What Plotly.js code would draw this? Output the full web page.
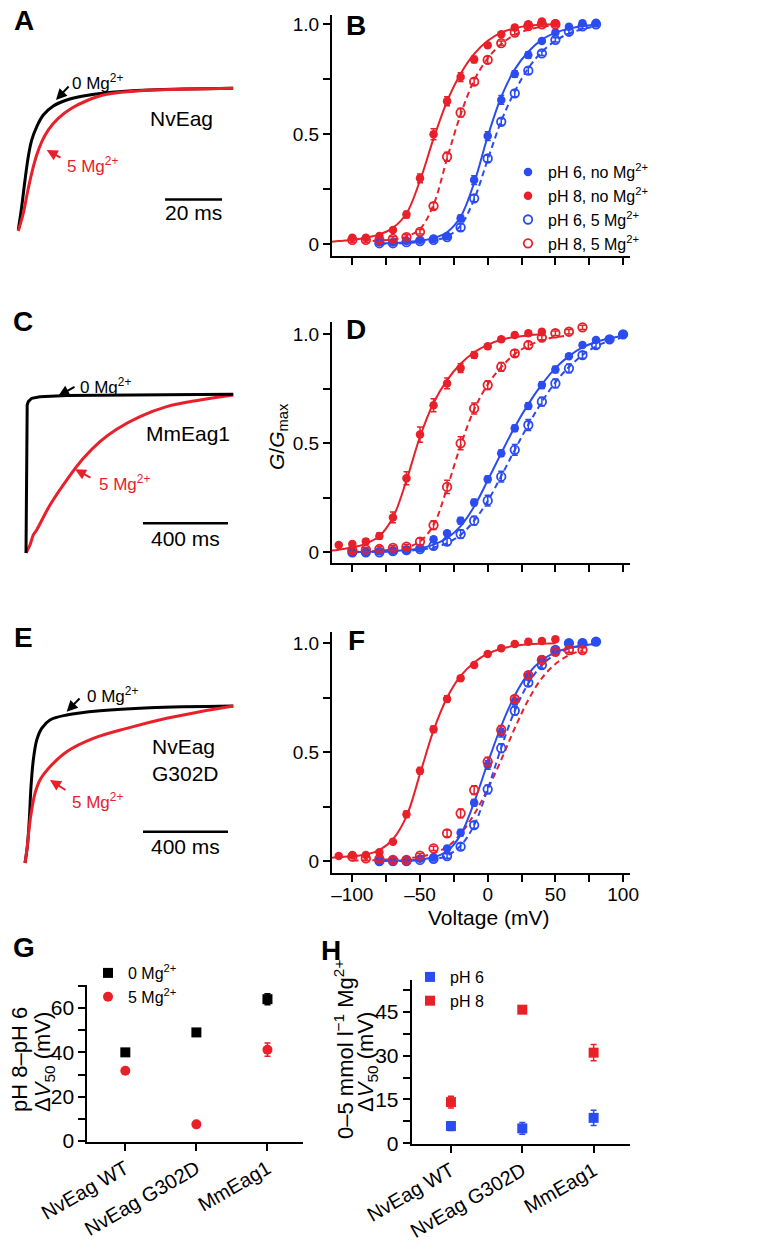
<!DOCTYPE html>
<html><head><meta charset="utf-8">
<script src="https://cdn.plot.ly/plotly-3.0.1.min.js"></script>
<style>html,body{margin:0;padding:0;background:#fff}#chart{width:778px;height:1243px}</style>
</head><body><div id="chart"></div>
<script>
// ===================== DATA =====================
// Panel A (NvEag current traces, time in ms, normalized current)
const traceA_t0 = [0.1,1.3,2.46,3.61,4.8,6.56,8.88,12.4,17.1,22.9,31.1,46.3,75.5];
const traceA_i0 = [0.007,0.17,0.357,0.52,0.636,0.729,0.811,0.874,0.916,0.944,0.967,0.986,0.998];
const traceA_t5 = [0.1,1.86,3.26,4.8,6.56,8.32,10.6,14.1,18.8,24.1,31.1,42.8,58,75.5];
const traceA_i5 = [0,0.124,0.264,0.403,0.531,0.624,0.706,0.788,0.858,0.911,0.956,0.981,0.991,0.998];
const scaleA_t = [51.6, 71.6];   // 20 ms
const scaleA_i = [0.22, 0.22];
// Panel C (MmEag1)
const traceC_t0 = [0,2.4,3.3,5.6,10.8,18.8,26.8,65.9,191.5,505,975.5];
const traceC_i0 = [0,0.525,0.905,0.937,0.958,0.972,0.979,0.989,0.996,1.0,1.004];
const traceC_t5 = [0,18.8,34.4,50.2,113,191.5,270,348,426.7,536.5,662,818.8,975.5];
const traceC_i5 = [0,0.051,0.115,0.146,0.304,0.462,0.599,0.705,0.783,0.863,0.926,0.968,1.0];
const scaleC_t = [550.6, 950.6]; // 400 ms
const scaleC_i = [0.188, 0.188];
// Panel E (NvEag G302D)
const traceE_t0 = [0,10.8,20.2,28.2,39.1,55.1,78.6,117.6,196.2,352.9,588.2,980.2];
const traceE_i0 = [0,0.104,0.274,0.486,0.656,0.783,0.858,0.911,0.943,0.97,0.989,1.0];
const traceE_t5 = [0,10.8,20.2,31.5,47,70.6,117.6,196.2,321.4,478.6,666.8,823.5,980.2];
const traceE_i5 = [0,0.104,0.231,0.338,0.444,0.529,0.613,0.709,0.794,0.858,0.922,0.964,1.0];
const scaleE_t = [555.3, 955.3]; // 400 ms
const scaleE_i = [0.2, 0.2];

// Panel B (G/Gmax vs voltage, NvEag)
const B_V_red  = [-100,-90,-80,-70,-60,-50,-40,-30,-20,-10,0,10,20,30,40,50];
const B_red0   = [0.03,0.03,0.038,0.065,0.135,0.30,0.50,0.65,0.76,0.84,0.905,0.955,0.985,1.0,1.012,1.005];
const B_red0e  = [0.01,0.01,0.01,0.01,0.015,0.02,0.025,0.02,0.02,0.015,0.01,0.01,0.01,0.01,0.01,0.01];
const B_red5   = [0.02,0.02,0.02,0.025,0.033,0.057,0.174,0.398,0.598,0.739,0.838,0.914,0.962,0.992,1.0,1.0];
const B_red5e  = [0.01,0.01,0.01,0.01,0.01,0.01,0.015,0.02,0.02,0.015,0.015,0.01,0.01,0.01,0.01,0.01];
const B_V_blue = [-80,-70,-60,-50,-40,-30,-20,-10,0,10,20,30,40,50,60,70,80];
const B_blue0  = [0.01,0.01,0.015,0.02,0.027,0.038,0.118,0.292,0.492,0.656,0.774,0.86,0.924,0.962,0.989,1.005,1.007];
const B_blue0e = [0.005,0.005,0.005,0.005,0.01,0.01,0.015,0.02,0.02,0.02,0.015,0.015,0.01,0.01,0.01,0.01,0.01];
const B_blue5  = [0.005,0.005,0.01,0.015,0.02,0.033,0.077,0.209,0.39,0.557,0.686,0.789,0.868,0.929,0.966,0.99,1.0];
const B_blue5e = [0.005,0.005,0.005,0.005,0.01,0.01,0.015,0.015,0.015,0.015,0.015,0.015,0.01,0.01,0.01,0.01,0.01];
const B_fitV_red0 = [-115,-110,-100,-90,-80,-70,-60,-50,-40,-30,-20,-10,0,10,20,30,40,50];
const B_fit_red0  = [0.012,0.015,0.02,0.03,0.045,0.075,0.14,0.29,0.48,0.65,0.775,0.865,0.925,0.962,0.982,0.993,0.998,1.0];
const B_fitV_red5 = [-85,-80,-70,-60,-50,-40,-30,-20,-10,0,10,20,30,40,50];
const B_fit_red5  = [0.015,0.018,0.022,0.035,0.07,0.18,0.39,0.59,0.745,0.845,0.91,0.952,0.975,0.988,0.995];
const B_fitV_blue = [-80,-70,-60,-50,-40,-30,-20,-10,0,10,20,30,40,50,60,70,80];
const B_fit_blue0 = [0.004,0.006,0.01,0.016,0.028,0.055,0.125,0.28,0.49,0.67,0.795,0.875,0.93,0.962,0.98,0.992,0.998];
const B_fit_blue5 = [0.002,0.003,0.006,0.01,0.018,0.035,0.085,0.205,0.385,0.56,0.695,0.8,0.875,0.925,0.958,0.978,0.992];

// Panel D (MmEag1)
const D_V_red0 = [-110,-100,-90,-80,-70,-60,-50,-40,-30,-20,-10,0,10,20,30,40];
const D_red0   = [0.033,0.038,0.05,0.075,0.16,0.34,0.54,0.675,0.775,0.845,0.905,0.945,0.977,0.997,1.005,1.012];
const D_red0e  = [0.01,0.01,0.012,0.015,0.025,0.03,0.035,0.03,0.025,0.02,0.015,0.012,0.01,0.01,0.01,0.01];
const D_V_red5 = [-100,-90,-80,-70,-60,-50,-40,-30,-20,-10,0,10,20,30,40,50,60,70];
const D_red5   = [0.01,0.012,0.015,0.02,0.026,0.049,0.125,0.30,0.50,0.66,0.767,0.851,0.913,0.951,0.985,1.005,1.012,1.032];
const D_red5e  = [0.01,0.01,0.01,0.01,0.01,0.015,0.02,0.03,0.03,0.025,0.02,0.02,0.015,0.015,0.01,0.01,0.01,0.01];
const D_V_blue = [-100,-90,-80,-70,-60,-50,-40,-30,-20,-10,0,10,20,30,40,50,60,70,80,90,100];
const D_blue0  = [0.0,0.0,0.005,0.007,0.01,0.02,0.06,0.087,0.145,0.228,0.335,0.454,0.569,0.671,0.767,0.839,0.90,0.951,0.974,0.977,1.0];
const D_blue0e = [0.005,0.005,0.005,0.005,0.005,0.01,0.01,0.01,0.015,0.015,0.015,0.015,0.015,0.015,0.015,0.015,0.01,0.01,0.01,0.01,0.01];
const D_blue5  = [0.0,0.0,0.0,0.005,0.01,0.015,0.03,0.049,0.084,0.145,0.237,0.347,0.47,0.584,0.691,0.775,0.844,0.905,0.951,0.977,1.0];
const D_blue5e = [0.005,0.005,0.005,0.005,0.01,0.01,0.015,0.015,0.02,0.02,0.025,0.025,0.025,0.025,0.02,0.02,0.02,0.015,0.015,0.01,0.01];
const D_fitV_red0 = [-115,-110,-100,-90,-80,-70,-60,-50,-40,-30,-20,-10,0,10,20,30,40];
const D_fit_red0  = [0.008,0.012,0.022,0.04,0.075,0.16,0.33,0.53,0.685,0.79,0.865,0.918,0.952,0.975,0.988,0.995,1.0];
const D_fitV_red5 = [-100,-90,-80,-70,-60,-50,-40,-30,-20,-10,0,10,20,30,40,50,60];
const D_fit_red5  = [0.003,0.005,0.008,0.013,0.022,0.05,0.125,0.295,0.49,0.655,0.77,0.85,0.91,0.948,0.972,0.987,0.995];
const D_fitV_blue = [-100,-90,-80,-70,-60,-50,-40,-30,-20,-10,0,10,20,30,40,50,60,70,80,90,100];
const D_fit_blue0 = [0.001,0.002,0.004,0.006,0.01,0.018,0.035,0.065,0.12,0.21,0.33,0.455,0.575,0.68,0.77,0.845,0.9,0.94,0.965,0.982,0.992];
const D_fit_blue5 = [0.0,0.001,0.002,0.004,0.007,0.012,0.022,0.042,0.08,0.145,0.235,0.35,0.47,0.585,0.69,0.78,0.85,0.905,0.945,0.97,0.985];

// Panel F (NvEag G302D)
const F_V_red0 = [-110,-100,-90,-80,-70,-60,-50,-40,-30,-20,-10,0,10,20,30,40,50];
const F_red0   = [0.023,0.028,0.028,0.04,0.089,0.215,0.415,0.605,0.744,0.839,0.90,0.951,0.977,0.997,1.007,1.01,1.018];
const F_red0e  = [0.01,0.01,0.01,0.01,0.01,0.015,0.015,0.015,0.015,0.01,0.01,0.01,0.01,0.01,0.01,0.01,0.01];
const F_V_red5 = [-100,-90,-80,-70,-60,-50,-40,-30,-20,-10,0,10,20,30,40,50,60,70];
const F_red5   = [0.02,0.012,0.01,0.005,0.005,0.025,0.058,0.127,0.219,0.326,0.456,0.602,0.744,0.854,0.923,0.961,0.969,0.969];
const F_red5e  = [0.01,0.01,0.01,0.01,0.01,0.01,0.01,0.015,0.02,0.02,0.02,0.02,0.015,0.015,0.01,0.01,0.01,0.01];
const F_V_blue = [-80,-70,-60,-50,-40,-30,-20,-10,0,10,20,30,40,50,60,70,80];
const F_blue0  = [0.0,0.0,0.005,0.01,0.017,0.058,0.13,0.268,0.441,0.59,0.732,0.847,0.927,0.966,0.997,1.003,1.007];
const F_blue0e = [0.005,0.005,0.005,0.005,0.01,0.01,0.015,0.015,0.02,0.02,0.015,0.015,0.01,0.01,0.01,0.01,0.01];
const F_blue5  = [0.0,0.0,0.0,0.005,0.01,0.023,0.066,0.165,0.329,0.518,0.69,0.819,0.90,0.969,1.0,1.0,1.007];
const F_blue5e = [0.005,0.005,0.005,0.005,0.01,0.01,0.015,0.015,0.02,0.02,0.02,0.015,0.015,0.01,0.01,0.01,0.01];
const F_fitV_red0 = [-115,-110,-100,-90,-80,-70,-60,-50,-40,-30,-20,-10,0,10,20,30,40,50];
const F_fit_red0  = [0.015,0.018,0.022,0.03,0.05,0.1,0.205,0.4,0.6,0.75,0.85,0.912,0.952,0.975,0.988,0.995,0.998,1.0];
const F_fitV_red5 = [-100,-90,-80,-70,-60,-50,-40,-30,-20,-10,0,10,20,30,40,50,60,70];
const F_fit_red5  = [0.002,0.003,0.005,0.008,0.012,0.02,0.036,0.065,0.125,0.215,0.33,0.465,0.61,0.74,0.84,0.905,0.945,0.968];
const F_fitV_blue = [-80,-70,-60,-50,-40,-30,-20,-10,0,10,20,30,40,50,60,70,80];
const F_fit_blue0 = [0.0,0.001,0.003,0.007,0.017,0.045,0.12,0.27,0.45,0.62,0.76,0.86,0.922,0.958,0.978,0.99,0.996];
const F_fit_blue5 = [0.0,0.0,0.001,0.003,0.008,0.025,0.07,0.165,0.33,0.52,0.69,0.815,0.9,0.948,0.975,0.988,0.995];

// Voltage axis ticks (major labelled, minor every 25 mV)
const voltTickVals = [-100,-50,0,50,100];
const voltTickText = ['\u2013100','\u201350','0','50','100'];
const voltMinorStep = 25;
const gTickVals = [0,0.5,1.0];
const gTickText = ['0','0.5','1.0'];
const gMinorStep = 0.25;

// Panels G and H
const constructs = ['NvEag WT','NvEag G302D','MmEag1'];
const constructPos = [0,1,2];
const G_mg0  = [40, 49, 64];
const G_mg0e = [1.5, 1.5, 2.5];
const G_mg5  = [31.7, 7.5, 41.2];
const G_mg5e = [1.0, 1.2, 3.0];
const G_tickVals = [0,20,40,60];
const G_minorStep = 10;
const H_ph6  = [5.9, 5.1, 8.7];
const H_ph6e = [1.5, 2.0, 2.6];
const H_ph8  = [14.1, 45.7, 31.0];
const H_ph8e = [2.0, 1.2, 2.8];
const H_tickVals = [0,15,30,45];
const H_minorStep = 7.5;

// ===================== LAYOUT HELPERS =====================
const W = 778, H = 1243;
const FONT = 'Liberation Sans, Arial, Helvetica, sans-serif';
const RED = '#e8202a', BLUE = '#2a4cf0', BLACK = '#000000';
const px = p => p / W;
const py = p => 1 - p / H;
const xdom = (a, b) => [a / W, b / W];
const ydom = (top, bot) => [1 - bot / H, 1 - top / H];

const traces = [];
function line(x, y, xa, ya, color, width, dash, shape) {
  traces.push({x, y, xaxis: xa, yaxis: ya, type: 'scatter', mode: 'lines',
    line: {color, width, dash: dash || 'solid', shape: shape || 'linear', smoothing: 1},
    showlegend: false, hoverinfo: 'skip'});
}
function pts(x, y, e, xa, ya, color, open, name, legend, symbol, size) {
  const sym = symbol || (open ? 'circle-open' : 'circle');
  traces.push({x, y, xaxis: xa, yaxis: ya, type: 'scatter', mode: 'markers', name: name || '',
    showlegend: !!name, legend: legend || 'legend', cliponaxis: false,
    marker: {symbol: sym, size: size || 8.5, color: color, line: {color: color, width: open ? 1.8 : 0}},
    error_y: e ? {type: 'data', array: e, visible: true, color: color, thickness: 1.5, width: 3} : {visible: false}});
}

// ---- A, C, E traces ----
line(traceA_t0, traceA_i0, 'x', 'y', BLACK, 3, 'solid', 'spline');
line(traceA_t5, traceA_i5, 'x', 'y', RED, 3, 'solid', 'spline');
line(scaleA_t, scaleA_i, 'x', 'y', BLACK, 2.5);
line(traceC_t5, traceC_i5, 'x3', 'y3', RED, 3, 'solid', 'spline');
line(traceC_t0, traceC_i0, 'x3', 'y3', BLACK, 3, 'solid', 'linear');
line(scaleC_t, scaleC_i, 'x3', 'y3', BLACK, 2.5);
line(traceE_t0, traceE_i0, 'x5', 'y5', BLACK, 3, 'solid', 'spline');
line(traceE_t5, traceE_i5, 'x5', 'y5', RED, 3, 'solid', 'spline');
line(scaleE_t, scaleE_i, 'x5', 'y5', BLACK, 2.5);

// ---- B ----
const DASH = '6px,4px';
line(B_fitV_red0, B_fit_red0, 'x2', 'y2', RED, 2, 'solid', 'spline');
line(B_fitV_red5, B_fit_red5, 'x2', 'y2', RED, 2, DASH, 'spline');
line(B_fitV_blue, B_fit_blue0, 'x2', 'y2', BLUE, 2, 'solid', 'spline');
line(B_fitV_blue, B_fit_blue5, 'x2', 'y2', BLUE, 2, DASH, 'spline');
pts(B_V_blue, B_blue0, B_blue0e, 'x2', 'y2', BLUE, false, 'pH 6, no Mg<sup>2+</sup>');
pts(B_V_red, B_red0, B_red0e, 'x2', 'y2', RED, false, 'pH 8, no Mg<sup>2+</sup>');
pts(B_V_blue, B_blue5, B_blue5e, 'x2', 'y2', BLUE, true, 'pH 6, 5 Mg<sup>2+</sup>');
pts(B_V_red, B_red5, B_red5e, 'x2', 'y2', RED, true, 'pH 8, 5 Mg<sup>2+</sup>');

// ---- D ----
line(D_fitV_red0, D_fit_red0, 'x4', 'y4', RED, 2, 'solid', 'spline');
line(D_fitV_red5, D_fit_red5, 'x4', 'y4', RED, 2, DASH, 'spline');
line(D_fitV_blue, D_fit_blue0, 'x4', 'y4', BLUE, 2, 'solid', 'spline');
line(D_fitV_blue, D_fit_blue5, 'x4', 'y4', BLUE, 2, DASH, 'spline');
pts(D_V_blue, D_blue0, D_blue0e, 'x4', 'y4', BLUE, false);
pts(D_V_red0, D_red0, D_red0e, 'x4', 'y4', RED, false);
pts(D_V_blue, D_blue5, D_blue5e, 'x4', 'y4', BLUE, true);
pts(D_V_red5, D_red5, D_red5e, 'x4', 'y4', RED, true);

// ---- F ----
line(F_fitV_red0, F_fit_red0, 'x6', 'y6', RED, 2, 'solid', 'spline');
line(F_fitV_red5, F_fit_red5, 'x6', 'y6', RED, 2, DASH, 'spline');
line(F_fitV_blue, F_fit_blue0, 'x6', 'y6', BLUE, 2, 'solid', 'spline');
line(F_fitV_blue, F_fit_blue5, 'x6', 'y6', BLUE, 2, DASH, 'spline');
pts(F_V_blue, F_blue0, F_blue0e, 'x6', 'y6', BLUE, false);
pts(F_V_red0, F_red0, F_red0e, 'x6', 'y6', RED, false);
pts(F_V_blue, F_blue5, F_blue5e, 'x6', 'y6', BLUE, true);
pts(F_V_red5, F_red5, F_red5e, 'x6', 'y6', RED, true);

// ---- G ----
pts(constructPos, G_mg0, G_mg0e, 'x7', 'y7', BLACK, false, '0 Mg<sup>2+</sup>', 'legend2', 'square', 10);
pts(constructPos, G_mg5, G_mg5e, 'x7', 'y7', RED, false, '5 Mg<sup>2+</sup>', 'legend2', 'circle', 10);
// ---- H ----
pts(constructPos, H_ph6, H_ph6e, 'x8', 'y8', BLUE, false, 'pH 6', 'legend3', 'square', 10);
pts(constructPos, H_ph8, H_ph8e, 'x8', 'y8', RED, false, 'pH 8', 'legend3', 'square', 10);

// ---- axes ----
const hidden = {visible: false, fixedrange: true};
const axBase = {showline: true, linecolor: BLACK, linewidth: 2, ticks: 'outside', ticklen: 7, tickwidth: 2,
  tickcolor: BLACK, showgrid: false, zeroline: false, mirror: false, fixedrange: true};
const minor = step => ({dtick: step, tick0: 0, ticks: 'outside', ticklen: 7, tickwidth: 2, tickcolor: BLACK, showgrid: false});
function voltAx(anchor, labels) {
  return Object.assign({}, axBase, {domain: xdom(332, 630), range: [-115.0, 105.1], anchor,
    tickmode: 'array', tickvals: voltTickVals, ticktext: voltTickText, showticklabels: labels,
    minor: minor(voltMinorStep), ticklabelstandoff: -4,
    tickfont: {family: FONT, size: 19, color: BLACK}});
}
function gAx(anchor, top, bot, range) {
  return Object.assign({}, axBase, {domain: ydom(top, bot), range, anchor,
    tickmode: 'array', tickvals: gTickVals, ticktext: gTickText, minor: minor(gMinorStep),
    tickfont: {family: FONT, size: 19, color: BLACK}});
}
function catAx(anchor, a, b, range) {
  return Object.assign({}, axBase, {domain: xdom(a, b), range, anchor, tickmode: 'array',
    tickvals: constructPos, ticktext: constructs, tickangle: -30, ticklabelstandoff: -2,
    tickfont: {family: FONT, size: 20, color: BLACK}});
}
function numAx(anchor, top, bot, range, vals, step) {
  return Object.assign({}, axBase, {domain: ydom(top, bot), range, anchor,
    tickmode: 'array', tickvals: vals, ticktext: vals.map(String), minor: minor(step),
    tickfont: {family: FONT, size: 21, color: BLACK}});
}

const layout = {
  width: W, height: H, margin: {l: 0, r: 0, t: 0, b: 0},
  paper_bgcolor: '#fff', plot_bgcolor: 'rgba(0,0,0,0)',
  font: {family: FONT, color: BLACK},
  xaxis:  Object.assign({}, hidden, {domain: xdom(5, 245), range: [-4.56, 79.65], anchor: 'y'}),
  yaxis:  Object.assign({}, hidden, {domain: ydom(70, 250), range: [-0.133, 1.126], anchor: 'x'}),
  xaxis3: Object.assign({}, hidden, {domain: xdom(5, 245), range: [-98.8, 1030.6], anchor: 'y3'}),
  yaxis3: Object.assign({}, hidden, {domain: ydom(370, 575), range: [-0.139, 1.158], anchor: 'x3'}),
  xaxis5: Object.assign({}, hidden, {domain: xdom(5, 245), range: [-94.1, 1035.3], anchor: 'y5'}),
  yaxis5: Object.assign({}, hidden, {domain: ydom(680, 885), range: [-0.14, 1.166], anchor: 'x5'}),
  xaxis2: voltAx('y2', false),
  yaxis2: gAx('x2', 15, 256, [-0.053, 1.042]),
  xaxis4: voltAx('y4', false),
  yaxis4: gAx('x4', 321.7, 563.3, [-0.0505, 1.058]),
  xaxis6: voltAx('y6', true),
  yaxis6: gAx('x6', 631.7, 873, [-0.055, 1.053]),
  xaxis7: catAx('y7', 87.3, 303, [-0.535, 2.5]),
  yaxis7: numAx('x7', 985, 1142.3, [-0.59, 70.4], G_tickVals, G_minorStep),
  xaxis8: catAx('y8', 411.7, 630, [-0.55, 2.51]),
  yaxis8: numAx('x8', 980, 1144.3, [-0.34, 55.85], H_tickVals, H_minorStep),
  showlegend: true,
  legend:  {x: px(508), y: py(155), xanchor: 'left', yanchor: 'top', bgcolor: 'rgba(0,0,0,0)',
    font: {family: FONT, size: 16, color: BLACK}, itemwidth: 30, tracegroupgap: 0, itemclick: false},
  legend2: {x: px(88), y: py(956), xanchor: 'left', yanchor: 'top', bgcolor: 'rgba(0,0,0,0)',
    font: {family: FONT, size: 16, color: BLACK}, itemwidth: 30, tracegroupgap: 0, itemclick: false},
  legend3: {x: px(410), y: py(960), xanchor: 'left', yanchor: 'top', bgcolor: 'rgba(0,0,0,0)',
    font: {family: FONT, size: 16, color: BLACK}, itemwidth: 30, tracegroupgap: 0, itemclick: false},
  annotations: []
};

const A = layout.annotations;
function txt(text, x, y, size, opts) {
  A.push(Object.assign({text, x: px(x), y: py(y), xref: 'paper', yref: 'paper', showarrow: false,
    xanchor: 'center', yanchor: 'middle', font: {family: FONT, size, color: BLACK}}, opts || {}));
}
function arrow(hx, hy, tx, ty, color) {
  A.push({text: '', x: px(hx), y: py(hy), xref: 'paper', yref: 'paper', ax: tx - hx, ay: ty - hy,
    showarrow: true, arrowhead: 2, arrowsize: 1.1, arrowwidth: 2, arrowcolor: color, standoff: 0, startstandoff: 0});
}
// panel letters
const LET = 28;
[['A', 24, 20], ['B', 356, 25], ['C', 23, 322], ['D', 356, 330], ['E', 23, 637], ['F', 356, 640],
 ['G', 24, 947], ['H', 331, 950]].forEach(([t, x, y]) => txt('<b>' + t + '</b>', x, y, LET));

// A annotations
txt('0 Mg<sup>2+</sup>', 70, 82, 17, {xanchor: 'left'});
arrow(56, 100, 70, 85, BLACK);
txt('NvEag', 181, 118, 21);
txt('5 Mg<sup>2+</sup>', 65, 165, 17, {xanchor: 'left', font: {family: FONT, size: 17, color: RED}});
arrow(46.7, 150, 62, 158.5, RED);
txt('20 ms', 193, 212, 21);
// C annotations
txt('0 Mg<sup>2+</sup>', 78, 386, 17, {xanchor: 'left'});
arrow(58.3, 396, 76, 386, BLACK);
txt('MmEag1', 187.5, 433, 21);
txt('5 Mg<sup>2+</sup>', 96.7, 483, 17, {xanchor: 'left', font: {family: FONT, size: 17, color: RED}});
arrow(75, 469.3, 92, 478.5, RED);
txt('400 ms', 185, 538, 21);
// E annotations
txt('0 Mg<sup>2+</sup>', 85, 695, 17, {xanchor: 'left'});
arrow(66.7, 711.7, 81, 697, BLACK);
txt('NvEag<br>G302D', 150, 760, 21, {xanchor: 'left', align: 'left'});
txt('5 Mg<sup>2+</sup>', 70, 801, 17, {xanchor: 'left', font: {family: FONT, size: 17, color: RED}});
arrow(50, 780, 67, 791, RED);
txt('400 ms', 185, 847, 21);
// B-F axis titles
txt('<i>G</i>/<i>G</i><sub>max</sub>', 278, 437, 21, {textangle: -90});
txt('Voltage (mV)', 488, 917, 21);
// G axis titles
txt('pH 8\u2013pH 6', 19, 1060, 22, {textangle: -90});
txt('\u0394<i>V</i><sub>50</sub> (mV)', 44, 1062, 22, {textangle: -90});
// H axis titles
txt('0\u20135 mmol l<sup>\u22121</sup> Mg<sup>2+</sup>', 344, 1050, 22, {textangle: -90});
txt('\u0394<i>V</i><sub>50</sub> (mV)', 367, 1062, 22, {textangle: -90});

Plotly.newPlot('chart', traces, layout, {staticPlot: true, displayModeBar: false});
</script></body></html>
